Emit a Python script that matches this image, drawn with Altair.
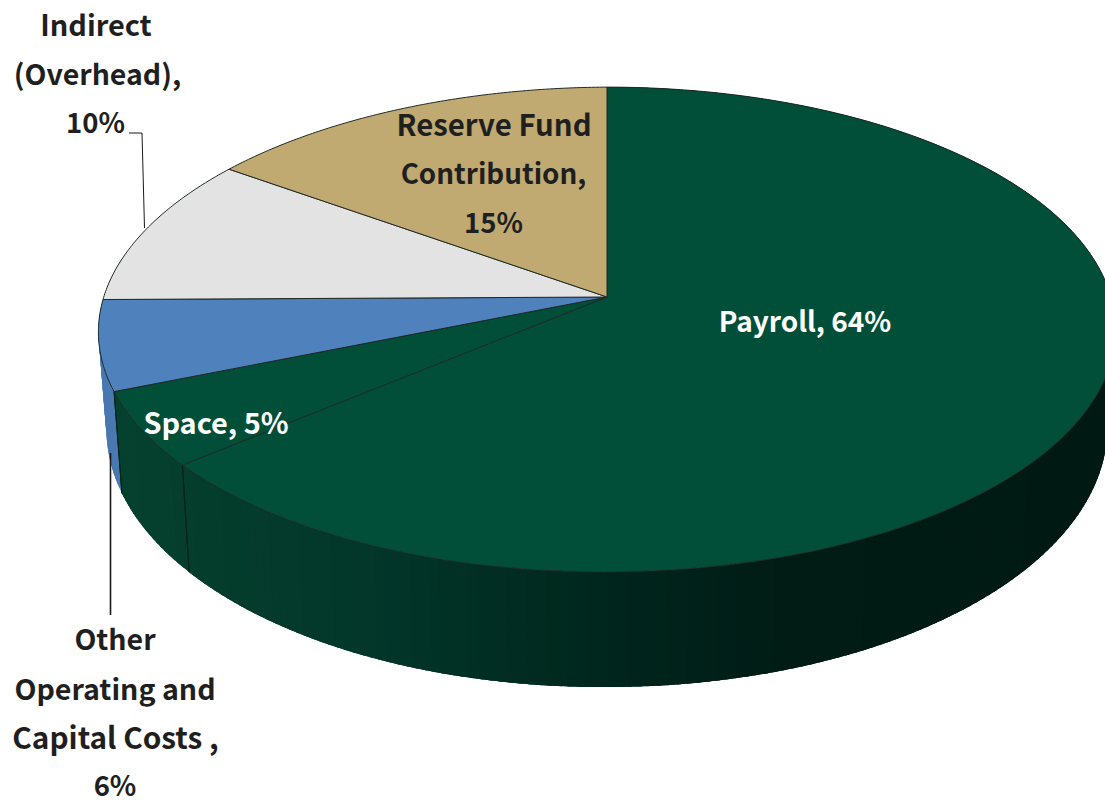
import math
import altair as alt
import pandas as pd

# Budget shares, clockwise from twelve o'clock
categories = ["Payroll", "Space", "Other Operating and Capital Costs", "Indirect (Overhead)", "Reserve Fund Contribution"]
shares = [64, 5, 6, 10, 15]
top_colors = ["#014f39", "#014f39", "#4f81bd", "#e3e3e3", "#c0aa72"]

# Perspective of the pie: top face and base are drawn from the same unit disc
TOP = dict(cx=607, cy=297, rx=504, ry=238, k=-0.134)
BASE = dict(cx=607, cy=392, rx=496, ry=255.5, k=-0.134)
LEFT_SAG = 0.005  # the left half of the pie leans slightly towards the viewer


def rim(fraction, face):
    """Screen position of the rim point at a cumulative share of the pie."""
    a = 2 * math.pi * fraction
    u, v = math.sin(a), -math.cos(a)
    d = 1 + face["k"] * v
    x = face["cx"] + face["rx"] * u / d
    y = face["cy"] + face["ry"] * v / d
    return [x, y + LEFT_SAG * max(0.0, face["cx"] - x)]


def steps(start, end, n_per_unit=180):
    n = max(2, int((end - start) * n_per_unit) + 1)
    return [start + (end - start) * i / n for i in range(n + 1)]


def polygon(coords, **props):
    return {
        "type": "Feature",
        "properties": props,
        "geometry": {"type": "Polygon", "coordinates": [coords + [coords[0]]]},
    }


def lerp_hex(x, stops):
    for (x0, c0), (x1, c1) in zip(stops, stops[1:]):
        if x <= x1:
            t = max(0.0, (x - x0) / (x1 - x0))
            rgb = [
                round(int(c0[i:i + 2], 16) * (1 - t) + int(c1[i:i + 2], 16) * t)
                for i in (1, 3, 5)
            ]
            return "#%02x%02x%02x" % tuple(rgb)
    return stops[-1][1]


# Wall shading darkens from left to right across the front of the pie
wall_shade = [
    (100, "#05432f"), (190, "#053e2d"), (380, "#02372a"), (500, "#012e23"),
    (650, "#00241b"), (800, "#001c15"), (1110, "#001a13"),
]

bounds = [0.0]
for s in shares:
    bounds.append(bounds[-1] + s / 100)

top_faces = []
wall_bands = []
wall_edges = []
for i, name in enumerate(categories):
    start, end = bounds[i], bounds[i + 1]
    top_faces.append(
        polygon(
            [[TOP["cx"], TOP["cy"]]] + [rim(t, TOP) for t in steps(start, end, 720)],
            name=name,
            fill=top_colors[i],
        )
    )

for i in (2, 1, 0):
    name = categories[i]
    start, end = bounds[i], min(bounds[i + 1], 0.75)
    ws = steps(start, end, 360)
    # Walk right-to-left so every band is overlapped by its neighbour, leaving no seams
    for a, b in reversed(list(zip(ws, ws[1:]))):
        corners = rim(a, TOP), rim(b, TOP), rim(b, BASE), rim(a, BASE)
        mean_x = sum(p[0] for p in corners) / 4
        reach = min(end, b + 0.004)
        quad = [rim(a, TOP), rim(reach, TOP), rim(reach, BASE), rim(a, BASE)]
        color = "#4a78b0" if i == 2 else lerp_hex(mean_x, wall_shade)
        wall_bands.append(polygon(quad, name=name, fill=color))

for i in (1, 2):
    start = bounds[i]
    wall_edges.append(polygon([rim(start, TOP), rim(start, BASE), rim(start, TOP)], name=categories[i]))

identity = dict(type="identity", scale=1, translate=[0, 0])

walls = (
    alt.Chart(alt.Data(values=wall_bands))
    .mark_geoshape(strokeWidth=0)
    .encode(fill=alt.Fill("properties.fill:N", scale=None, legend=None))
    .project(**identity)
)

edges = (
    alt.Chart(alt.Data(values=wall_edges))
    .mark_geoshape(fill="transparent", stroke="#02231a", strokeWidth=1)
    .project(**identity)
)

faces = (
    alt.Chart(alt.Data(values=top_faces))
    .mark_geoshape(stroke="#1e2a26", strokeWidth=1, strokeJoin="round")
    .encode(fill=alt.Fill("properties.fill:N", scale=None, legend=None))
    .project(**identity)
)


def text_line(line, x, y, size=27.5, color="#1f1f1f"):
    return (
        alt.Chart(pd.DataFrame({"label": [line]}))
        .mark_text(
            font="Noto Sans CJK JP",
            fontWeight=700,
            fontSize=size,
            color=color,
            align="center",
            baseline="middle",
        )
        .encode(x=alt.value(x), y=alt.value(y), text="label:N")
    )


def leader(x0, y0, x1, y1, width):
    return (
        alt.Chart(pd.DataFrame({"label": ["leader"]}))
        .mark_rule(color="#1a1a1a", strokeWidth=width)
        .encode(x=alt.value(x0), x2=alt.value(x1), y=alt.value(y0), y2=alt.value(y1))
    )


labels = [
    text_line(f"Payroll, {shares[0]}%", 805, 324, 28, "#ffffff"),
    text_line(f"Space, {shares[1]}%", 216, 425, 28.9, "#ffffff"),
    text_line("Reserve Fund", 494, 127, 29.4),
    text_line("Contribution,", 493.5, 176, 27.8),
    text_line(f"{shares[4]}%", 493.5, 225),
    text_line("Indirect", 96, 27, 28.9),
    text_line("(Overhead),", 97.5, 76, 28.5),
    text_line(f"{shares[3]}%", 95.5, 125),
    text_line("Other", 115, 641, 28.5),
    text_line("Operating and", 115, 691, 28.6),
    text_line("Capital Costs ,", 115.5, 740, 29.8),
    text_line(f"{shares[2]}%", 115, 788),
]

leaders = [
    leader(129, 133, 142, 133, 1),
    leader(142, 133, 144.5, 228, 1),
    leader(110.5, 453, 110.5, 615, 1.6),
]

chart = (
    alt.layer(walls, edges, faces, *leaders, *labels)
    .properties(
        width=1105,
        height=800,
        padding=0,
        autosize=alt.AutoSizeParams(type="none"),
        background="#ffffff",
    )
    .configure_view(stroke=None)
)

chart.save("out.html", embed_options={"renderer": "svg", "actions": False})
